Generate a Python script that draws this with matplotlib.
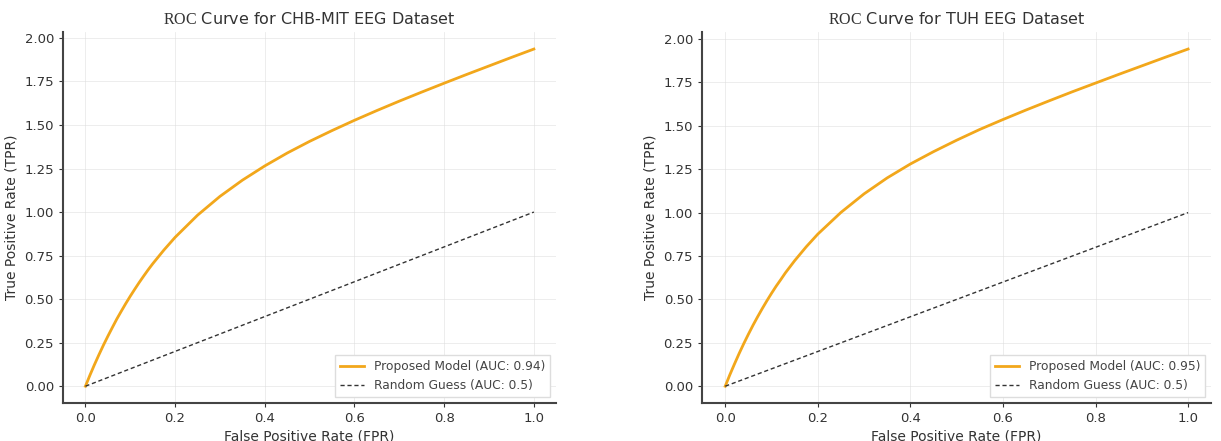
import matplotlib
matplotlib.use('Agg')
import matplotlib.pyplot as plt

# Valores (FPR x TPR)
fpr = [0.0, 0.01, 0.02, 0.03, 0.04, 0.05, 0.06, 0.07, 0.08, 0.09, 0.10, 0.11, 0.12,
       0.13, 0.14, 0.15, 0.175, 0.2, 0.25, 0.3, 0.35, 0.4, 0.45, 0.5, 0.55, 0.6,
       0.65, 0.7, 0.75, 0.8, 0.85, 0.9, 0.95, 1.0]
tpr_chb = [0.0, 0.063, 0.123, 0.180, 0.235, 0.287, 0.337, 0.386, 0.431, 0.475, 0.517,
           0.557, 0.596, 0.633, 0.669, 0.703, 0.782, 0.855, 0.982, 1.090, 1.183, 1.265,
           1.339, 1.406, 1.468, 1.527, 1.583, 1.637, 1.689, 1.740, 1.790, 1.839, 1.888,
           1.936]
tpr_tuh = [0.0, 0.066, 0.128, 0.188, 0.245, 0.299, 0.351, 0.400, 0.447, 0.492, 0.535,
           0.576, 0.614, 0.653, 0.688, 0.723, 0.803, 0.876, 1.001, 1.108, 1.200, 1.280,
           1.351, 1.417, 1.479, 1.536, 1.591, 1.644, 1.696, 1.746, 1.796, 1.845, 1.894,
           1.942]
random_x = [0.0, 1.0]
random_y = [0.0, 1.0]

titulos = ['CHB-MIT EEG Dataset', 'TUH EEG Dataset']
aucs = ['0.94', '0.95']
yticks = [0.0, 0.25, 0.5, 0.75, 1.0, 1.25, 1.5, 1.75, 2.0]
xticks = [0.0, 0.2, 0.4, 0.6, 0.8, 1.0]

plt.rcParams['mathtext.fontset'] = 'custom'
plt.rcParams['mathtext.rm'] = 'Liberation Serif'

fig = plt.figure(figsize=(12.21, 4.41), dpi=100)
posicoes = [[0.0516, 0.086, 0.404, 0.841], [0.575, 0.086, 0.417, 0.841]]

for pos, tpr, titulo, auc in zip(posicoes, [tpr_chb, tpr_tuh], titulos, aucs):
    ax = fig.add_axes(pos)
    ax.plot(fpr, tpr, color='#f2a71b', lw=2, label=f'Proposed Model (AUC: {auc})')
    ax.plot(random_x, random_y, color='#333333', lw=1, ls='--', dashes=(3, 2),
            label='Random Guess (AUC: 0.5)')
    ax.set_title(r'$\mathrm{ROC}$ Curve for ' + titulo, fontsize=11.5, color='#333333')
    ax.set_xlabel('False Positive Rate (FPR)', fontsize=10, color='#333333', labelpad=3)
    ax.set_ylabel('True Positive Rate (TPR)', fontsize=10, color='#333333')
    ax.set_xticks(xticks)
    ax.set_yticks(yticks)
    ax.tick_params(labelsize=9.5, colors='#333333', length=3)
    ax.grid(True, color='#dddddd', lw=0.6, alpha=0.6)
    for s in ['top', 'right']:
        ax.spines[s].set_visible(False)
    for s in ['left', 'bottom']:
        ax.spines[s].set_linewidth(1.5)
        ax.spines[s].set_color('#444444')
    leg = ax.legend(loc='lower right', fontsize=8.8, framealpha=1, edgecolor='#dddddd',
                    fancybox=False)
    for t in leg.get_texts():
        t.set_color('#444444')

plt.savefig('out.png', dpi=100)
